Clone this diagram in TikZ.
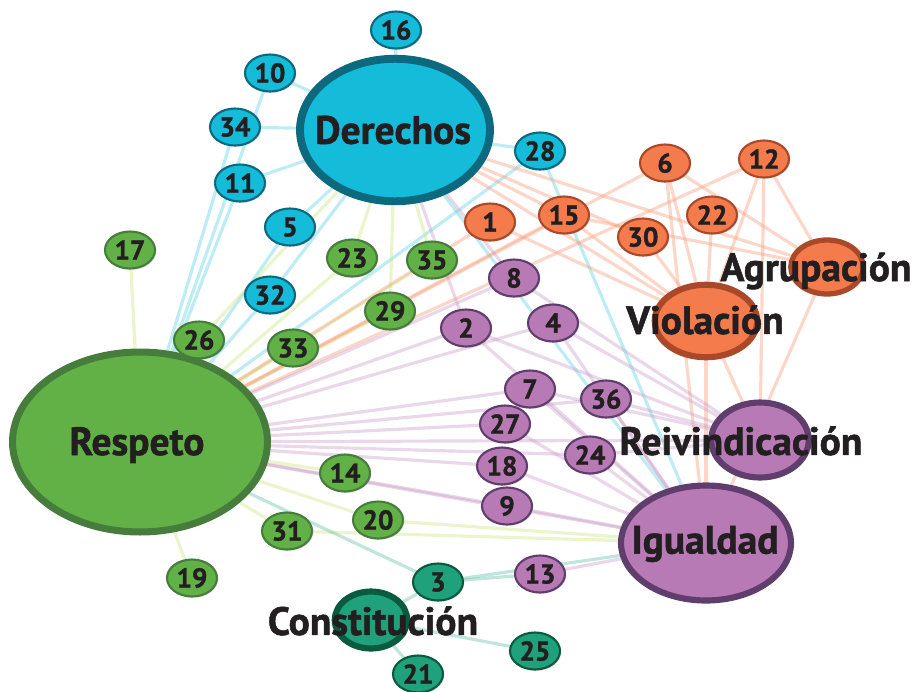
\documentclass[tikz,border=0pt]{standalone}
\usepackage{fontspec}
\setmainfont{PT Sans}[BoldFeatures={FakeBold=1.3}]
\usetikzlibrary{shapes.geometric,shadows}
\definecolor{ink}{HTML}{231F20}
\definecolor{dercol}{HTML}{15BCDA}
\definecolor{derline}{HTML}{0D6A7E}
\definecolor{rescol}{HTML}{62B146}
\definecolor{resline}{HTML}{477D3C}
\definecolor{vilcol}{HTML}{F47B4B}
\definecolor{villine}{HTML}{A9492A}
\definecolor{igucol}{HTML}{B87AB5}
\definecolor{iguline}{HTML}{5F3D6C}
\definecolor{concol}{HTML}{1FA27B}
\definecolor{conline}{HTML}{0A5A3F}
\pgfdeclarelayer{background}
\pgfsetlayers{background,main}
\tikzset{
	term/.style={
		ellipse,
		draw,
		line width=1.2pt,
		minimum width=1cm,
		minimum height=0.74cm,
		inner sep=0pt,
		text=ink,
		font=\bfseries\fontsize{15.5}{15.5}\selectfont,
		drop shadow={shadow xshift=0.7pt,shadow yshift=-0.7pt,opacity=0.3},
	},
	hub/.style={
		ellipse,
		draw,
		inner sep=0pt,
	},
	hubtext/.style={
		inner sep=0pt,
		text=ink,
		font=\bfseries\fontsize{22.5}{22.5}\selectfont,
	},
	der/.style={fill=dercol,draw=derline},
	res/.style={fill=rescol,draw=resline},
	vil/.style={fill=vilcol,draw=villine},
	igu/.style={fill=igucol,draw=iguline},
	con/.style={fill=concol,draw=conline},
	link/.style={line width=1.8pt,opacity=0.4},
	derlink/.style={link,draw=dercol!70!white},
	reslink/.style={link,draw=rescol!55!yellow!60!white},
	villink/.style={link,draw=vilcol!75!white},
	igulink/.style={link,draw=igucol!75!white},
	conlink/.style={link,draw=concol!70!white},
}
\begin{document}
\begin{tikzpicture}[x=0.02cm,y=-0.02cm]
	\useasboundingbox (0,0) rectangle (914,691);

	% hubs
	\node [hub,der,line width=4.5pt,minimum width=3.8cm,minimum height=2.85cm] (Der) at (395,130) {};
	\node [hub,res,line width=4pt,minimum width=5.1cm,minimum height=3.6cm] (Res) at (140,442) {};
	\node [hub,igu,line width=3.5pt,minimum width=3.4cm,minimum height=2.3cm] (Igu) at (706,543) {};
	\node [hub,igu,line width=3.5pt,minimum width=1.95cm,minimum height=1.5cm] (Rei) at (760,440) {};
	\node [hub,vil,line width=3.5pt,minimum width=2.05cm,minimum height=1.45cm] (Vio) at (706,321) {};
	\node [hub,vil,line width=3pt,minimum width=1.45cm,minimum height=1.08cm] (Agr) at (827,267) {};
	\node [hub,con,line width=3.5pt,minimum width=1.45cm,minimum height=1.14cm] (Con) at (371,620) {};
	\node [hubtext] (Der-text) at (393,130) {Derechos};
	\node [hubtext] (Res-text) at (137,445) {Respeto};
	\node [hubtext] (Igu-text) at (705,544) {Igualdad};
	\node [hubtext] (Rei-text) at (741,441) {Reivindicación};
	\node [hubtext] (Vio-text) at (705,320) {Violación};
	\node [hubtext] (Agr-text) at (816,271) {Agrupación};
	\node [hubtext] (Con-text) at (373,621) {Constitución};

	% Derechos
	\node [term,der] (n16) at (396,30) {16};
	\node [term,der] (n10) at (270,73) {10};
	\node [term,der] (n34) at (235,127) {34};
	\node [term,der] (n11) at (240,183) {11};
	\node [term,der] (n5) at (290,227) {5};
	\node [term,der] (n32) at (270,295) {32};
	\node [term,der] (n28) at (540,151) {28};
	% Respeto
	\node [term,res] (n17) at (130,250) {17};
	\node [term,res] (n26) at (199,340) {26};
	\node [term,res] (n23) at (352,258) {23};
	\node [term,res] (n35) at (432,260) {35};
	\node [term,res] (n29) at (390,311) {29};
	\node [term,res] (n33) at (293,348) {33};
	\node [term,res] (n14) at (345,473) {14};
	\node [term,res] (n20) at (378,520) {20};
	\node [term,res] (n31) at (287,531) {31};
	\node [term,res] (n19) at (192,578) {19};
	% Violacion / Agrupacion
	\node [term,vil] (n6) at (665,163) {6};
	\node [term,vil] (n12) at (764,159) {12};
	\node [term,vil] (n1) at (490,222) {1};
	\node [term,vil] (n15) at (564,215) {15};
	\node [term,vil] (n22) at (712,215) {22};
	\node [term,vil] (n30) at (643,237) {30};
	% Igualdad / Reivindicacion
	\node [term,igu] (n8) at (514,278) {8};
	\node [term,igu] (n4) at (553,323) {4};
	\node [term,igu] (n2) at (466,328) {2};
	\node [term,igu] (n7) at (530,389) {7};
	\node [term,igu] (n36) at (606,399) {36};
	\node [term,igu] (n27) at (505,424) {27};
	\node [term,igu] (n24) at (590,455) {24};
	\node [term,igu] (n18) at (502,466) {18};
	\node [term,igu] (n9) at (507,506) {9};
	\node [term,igu] (n13) at (540,574) {13};
	% Constitucion
	\node [term,con] (n3) at (438,582) {3};
	\node [term,con] (n25) at (535,651) {25};
	\node [term,con] (n21) at (418,674) {21};

	\begin{pgfonlayer}{background}
		\path[derlink] (Der) edge (n16) edge (n10) edge (n34) edge (n11) edge (n5) edge (n32) edge (n28) edge (Igu);
		\path[derlink] (n28) edge (Igu) edge (Res);
		\path[derlink] (Res) edge (n10) edge (n34) edge (n11) edge (n5) edge (n32);

		\path[reslink] (Res) edge (n17) edge (n26) edge (n23) edge (n35) edge (n29) edge (n33) edge (n14) edge (n20) edge (n31) edge (n19);
		\path[reslink] (Der) edge (n23) edge (n29) edge (n35) edge (n26);
		\path[reslink] (Igu) edge (n20) edge (n31);

		\path[villink] (Res) edge (n1) edge (n15) edge (n6) edge (n12);
		\path[villink] (Der) edge (n15) edge (n30) edge (Vio) edge (Agr);
		\path[villink] (Vio) edge (n1) edge (n15) edge (n6) edge (n12) edge (n22) edge (n30) edge (Igu) edge (Rei);
		\path[villink] (Agr) edge (n15) edge (n6) edge (n12) edge (Igu);
		\path[villink] (n6) edge (Igu);
		\path[villink] (n12) edge (Rei);

		\path[igulink] (Res) edge (Igu) edge (Rei) edge (n2) edge (n8) edge (n4) edge (n7) edge (n27) edge (n18) edge (n9) edge (n36) edge (n24);
		\path[igulink] (Igu) edge (n2) edge (n4) edge (n7) edge (n36) edge (n27) edge (n24) edge (n18) edge (n9) edge (n13);
		\path[igulink] (Rei) edge (n8) edge (n2) edge (n4) edge (n7) edge (n36) edge (n24);
		\path[igulink] (Der) edge (n2) edge (n8);

		\path[conlink] (Res) edge (n3);
		\path[conlink] (n3) edge (Con) edge (n13) edge (Igu);
		\path[conlink] (Con) edge (n25) edge (n21);
	\end{pgfonlayer}
\end{tikzpicture}
\end{document}
